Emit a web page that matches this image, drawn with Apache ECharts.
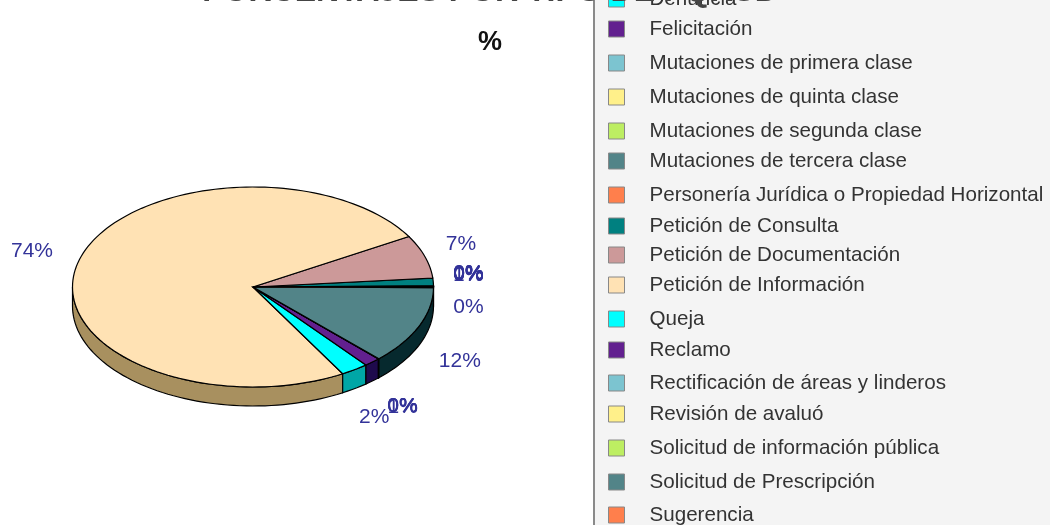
<!DOCTYPE html>
<html lang="es">
<head>
    <meta charset="UTF-8">
    <title>Porcentajes por tipo</title>
    <script src="https://cdn.jsdelivr.net/npm/echarts@6/dist/echarts.min.js"></script>
    <style>
        html, body { margin: 0; padding: 0; background: #fff; overflow: hidden; }
        #chart { width: 1050px; height: 525px; }
    </style>
</head>
<body>
<div id="chart"></div>
<script>
    const categories = [
        'Denuncia', 'Felicitación', 'Mutaciones de primera clase', 'Mutaciones de quinta clase',
        'Mutaciones de segunda clase', 'Mutaciones de tercera clase',
        'Personería Jurídica o Propiedad Horizontal', 'Petición de Consulta',
        'Petición de Documentación', 'Petición de Información', 'Queja', 'Reclamo',
        'Rectificación de áreas y linderos', 'Revisión de avaluó',
        'Solicitud de información pública', 'Solicitud de Prescripción', 'Sugerencia'
    ];
    const percents = [0.03, 0.03, 0.03, 0.03, 0.03, 0.03, 0.03, 1.2, 6.9, 73.9, 2.45, 1.45, 0.02, 0.02, 0.02, 12.45, 0.1];

    // paleta de Excel: se repite cada 10 categorias
    const topColors = ['#00ffff', '#62208f', '#7cc4d0', '#fff08a', '#bdee62', '#528488', '#ff7f4c', '#008080', '#cc9999', '#ffe2b4'];
    const wallColors = ['#00a6a6', '#1e0a4c', '#4a8a94', '#a89c50', '#7c9c3c', '#06292e', '#a85030', '#004040', '#885c5c', '#a8905f'];

    // geometria del pastel
    const cx = 253, cy = 287, rx = 180.5, ry = 100, depth = 19;
    // centro vertical de cada fila de la leyenda
    const legendRows = [-1, 29, 63, 97, 131, 161, 195, 226, 255, 285, 319, 350, 383, 414, 448, 482, 515];

    // correccion [dx, dy] de etiquetas respecto a su posicion radial
    const zeroTop = [-5, -12];
    const zeroBottom = [-4, 8];
    const labelNudge = {
        'Denuncia': zeroTop, 'Felicitación': zeroTop, 'Mutaciones de primera clase': zeroTop,
        'Mutaciones de quinta clase': zeroTop, 'Mutaciones de segunda clase': zeroTop,
        'Mutaciones de tercera clase': zeroTop, 'Personería Jurídica o Propiedad Horizontal': zeroTop,
        'Petición de Consulta': [-5, -5],
        'Petición de Documentación': [-2, 0],
        'Petición de Información': [-8, 0],
        'Queja': [-3, 2],
        'Reclamo': [4, 4],
        'Rectificación de áreas y linderos': zeroBottom,
        'Revisión de avaluó': zeroBottom,
        'Solicitud de información pública': zeroBottom,
        'Solicitud de Prescripción': [4, 13],
        'Sugerencia': [-5, 20]
    };

    const total = percents.reduce((a, b) => a + b, 0);

    function arcPoints(a0, a1, dy) {
        const pts = [];
        const steps = Math.max(1, Math.ceil(Math.abs(a1 - a0) / 2));
        for (let i = 0; i <= steps; i++) {
            const t = (a0 + (a1 - a0) * i / steps) * Math.PI / 180;
            pts.push([cx + rx * Math.cos(t), cy + ry * Math.sin(t) + dy]);
        }
        return pts;
    }

    let cum = 0;
    const series = categories.map((name, idx) => {
        // angulos en sentido de pantalla, desde el este hacia arriba
        const a1 = 360 - cum / total * 360;
        cum += percents[idx];
        const a0 = 360 - cum / total * 360;
        const color = topColors[idx % 10];
        const wall = wallColors[idx % 10];
        return {
            name: name,
            type: 'custom',
            coordinateSystem: 'none',
            silent: true,
            data: [percents[idx]],
            itemStyle: { color: color },
            renderItem: function () {
                const children = [];
                const w0 = Math.max(a0, 0), w1 = Math.min(a1, 180);
                if (w1 > w0) {
                    const top = arcPoints(w0, w1, 0);
                    const bottom = arcPoints(w0, w1, depth).reverse();
                    children.push({
                        type: 'polygon', z2: 1,
                        shape: { points: top.concat(bottom) },
                        style: { fill: wall, stroke: '#000', lineWidth: 1.2 }
                    });
                }
                children.push({
                    type: 'polygon', z2: 10,
                    shape: { points: [[cx, cy]].concat(arcPoints(a0, a1, 0)) },
                    style: { fill: color, stroke: '#000', lineWidth: 1.2 }
                });
                const mid = (a0 + a1) / 2 * Math.PI / 180;
                const sin = Math.sin(mid);
                const nudge = labelNudge[name];
                children.push({
                    type: 'text', z2: 20,
                    style: {
                        x: cx + (rx + 40) * Math.cos(mid) + nudge[0],
                        y: cy + (ry + 40) * sin + (sin > 0 ? depth * 0.8 * sin : 0) + nudge[1],
                        text: Math.round(percents[idx]) + '%',
                        fill: '#333399',
                        font: '21px "Liberation Sans", Arial, sans-serif',
                        align: 'center',
                        verticalAlign: 'middle'
                    }
                });
                return { type: 'group', children: children };
            }
        };
    });

    const legends = categories.map((name, idx) => ({
        data: [{ name: name, icon: 'rect' }],
        left: 608,
        top: legendRows[idx] - 12,
        padding: 0,
        orient: 'vertical',
        selectedMode: false,
        itemWidth: 16,
        itemHeight: 16,
        itemStyle: { borderColor: '#888', borderWidth: 1 },
        textStyle: {
            fontFamily: '"Liberation Sans", Arial, sans-serif',
            fontSize: 20.6,
            color: '#333',
            lineHeight: 24,
            padding: [0, 0, 0, 20]
        }
    }));

    const chart = echarts.init(document.getElementById('chart'), null, { renderer: 'canvas' });
    chart.setOption({
        animation: false,
        backgroundColor: '#fff',
        title: [
            {
                text: 'PORCENTAJES POR TIPO DE PQRSD',
                left: 490, top: -24, textAlign: 'center', padding: 0,
                textStyle: { fontFamily: '"Liberation Sans", Arial, sans-serif', fontSize: 32, fontWeight: 'bold', color: '#444', lineHeight: 32 }
            },
            {
                text: '%',
                left: 490, top: 29, textAlign: 'center', padding: 0,
                textStyle: { fontFamily: '"Liberation Sans", Arial, sans-serif', fontSize: 27, fontWeight: 'bold', color: '#111' }
            }
        ],
        legend: legends,
        graphic: [
            { type: 'rect', z: 0, shape: { x: 594, y: -5, width: 460, height: 535 }, style: { fill: '#f4f4f4', stroke: '#8a8a8a', lineWidth: 2 } }
        ],
        series: series
    });
</script>
</body>
</html>
